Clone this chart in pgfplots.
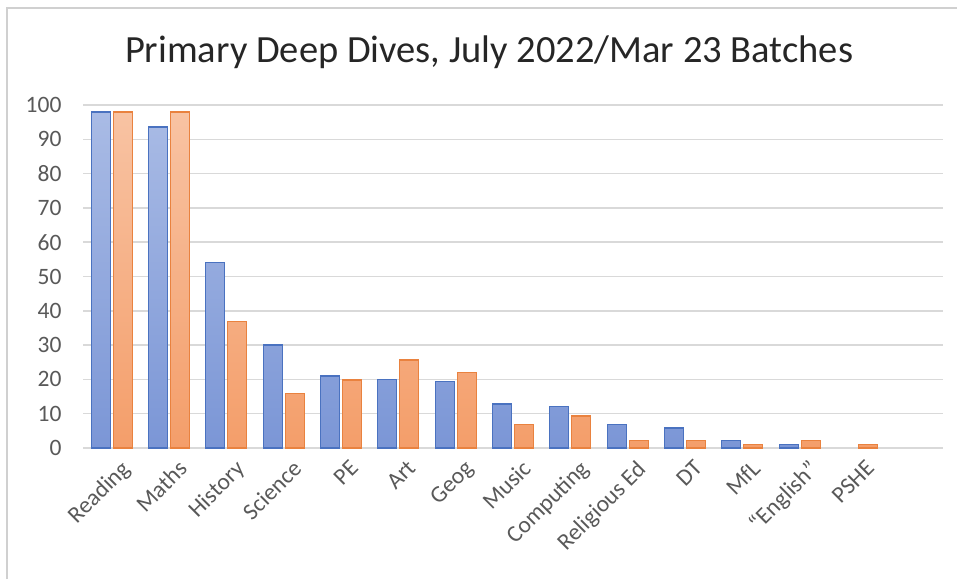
\documentclass[border=0pt]{standalone}
\usepackage{fontspec}
\setmainfont{Carlito}
\usepackage{pgfplots}
\pgfplotsset{compat=1.18}
\definecolor{tickgray}{HTML}{595959}
\definecolor{titlecol}{HTML}{262626}
\definecolor{gridcol}{HTML}{D9D9D9}
\definecolor{framecol}{HTML}{D0D0D0}
\definecolor{bluedge}{HTML}{4A72C0}
\definecolor{bluetop}{HTML}{A9BBE5}
\definecolor{bluebot}{HTML}{7B96D6}
\definecolor{orgedge}{HTML}{E9823F}
\definecolor{orgtop}{HTML}{F8C3A3}
\definecolor{orgbot}{HTML}{F49E6A}
\begin{document}
\begin{tikzpicture}[x=1pt,y=1pt]
\path[use as bounding box] (0,0) rectangle (957,579);
\draw[framecol, line width=1.5pt] (7,0) -- (7,571) -- (957,571);
\node[font=\fontsize{38.5}{46}\selectfont, text=titlecol] at (489,527) {Primary Deep Dives, July 2022/Mar 23 Batches};
\begin{axis}[
  at={(83pt,131pt)}, anchor=south west,
  scale only axis, width=860pt, height=343pt,
  ybar=3pt, bar width=19pt,
  xmin=-0.5, xmax=14.5, ymin=0, ymax=100,
  ytick={0,10,...,100},
  xtick={0,...,13},
  xticklabels={Reading,Maths,History,Science,PE,Art,Geog,Music,Computing,Religious Ed,DT,MfL,``English'',PSHE},
  axis line style={draw=none},
  major tick style={draw=none},
  ymajorgrids, grid style={gridcol, line width=1.5pt},
  /pgf/number format/assume math mode=true,
  tick label style={font=\fontsize{23.5}{28}\selectfont, text=tickgray},
  xticklabel style={rotate=45, anchor=north east, inner sep=1pt, yshift=-9pt, xshift=2pt},
  yticklabel style={anchor=east, xshift=-18pt},
  clip=false,
]
\addplot[draw=bluedge, line width=1.3pt, top color=bluetop, bottom color=bluebot] coordinates {
(0,98) (1,93.6) (2,54) (3,30) (4,21) (5,20) (6,19.3) (7,12.8) (8,12.2) (9,6.9) (10,5.8) (11,2.2) (12,1.1)
};
\addplot[draw=orgedge, line width=1.3pt, top color=orgtop, bottom color=orgbot] coordinates {
(0,98) (1,98) (2,36.8) (3,15.8) (4,19.8) (5,25.7) (6,22.1) (7,6.9) (8,9.3) (9,2.2) (10,2.2) (11,1.1) (12,2.2) (13,1.1)
};
\end{axis}
\end{tikzpicture}
\end{document}
